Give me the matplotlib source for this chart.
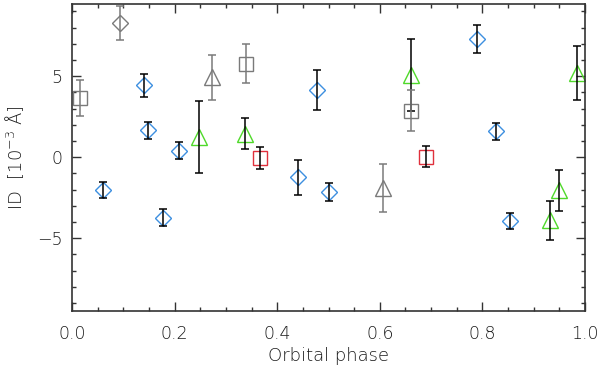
import matplotlib
matplotlib.use("Agg")
import matplotlib.pyplot as plt
from matplotlib.ticker import MultipleLocator

# blue diamonds (black error bars)
blue_x = [0.060, 0.140, 0.148, 0.177, 0.209, 0.440, 0.477, 0.501, 0.789, 0.826, 0.853]
blue_y = [-2.04, 4.44, 1.65, -3.74, 0.41, -1.25, 4.14, -2.14, 7.28, 1.60, -3.93]
blue_e = [0.50, 0.70, 0.53, 0.53, 0.52, 1.10, 1.25, 0.55, 0.86, 0.53, 0.50]

# green triangles (black error bars)
green_x = [0.247, 0.338, 0.660, 0.932, 0.950, 0.984]
green_y = [1.25, 1.46, 5.08, -3.89, -2.04, 5.20]
green_e = [2.20, 0.97, 2.20, 1.20, 1.27, 1.65]

# red squares (black error bars)
red_x = [0.367, 0.691]
red_y = [-0.04, 0.04]
red_e = [0.68, 0.67]

# gray symbols (gray error bars)
gsq_x = [0.015, 0.339, 0.661]
gsq_y = [3.66, 5.78, 2.86]
gsq_e = [1.10, 1.23, 1.27]

gdi_x = [0.094]
gdi_y = [8.29]
gdi_e = [1.07]

gtr_x = [0.273, 0.606]
gtr_y = [4.92, -1.90]
gtr_e = [1.37, 1.50]

BLUE = "#3d8fe0"
GREEN = "#4fd92a"
RED = "#e0303c"
GRAY = "#7a7a7a"
AXC = "#333333"
TXC = "#1a1a1a"

plt.rcParams["font.weight"] = "light"

fig = plt.figure(figsize=(6, 3.7), dpi=100)
ax = fig.add_axes([0.12, 0.159, 0.855, 0.830])


def draw(x, y, e, marker, ms, color, ecolor):
    ax.plot(x, y, linestyle="none", marker=marker, ms=ms, mfc="none",
            mec=color, mew=1.0, zorder=2)
    ax.errorbar(x, y, yerr=e, fmt="none", ecolor=ecolor, elinewidth=1.1,
                capsize=2.6, capthick=1.1, zorder=3)


draw(blue_x, blue_y, blue_e, "D", 8.4, BLUE, "black")
draw(green_x, green_y, green_e, "^", 11, GREEN, "black")
draw(red_x, red_y, red_e, "s", 10.5, RED, "black")
draw(gsq_x, gsq_y, gsq_e, "s", 10.5, GRAY, GRAY)
draw(gdi_x, gdi_y, gdi_e, "D", 8.4, GRAY, GRAY)
draw(gtr_x, gtr_y, gtr_e, "^", 11, GRAY, GRAY)

ax.set_xlim(0, 1)
ax.set_ylim(-9.5, 9.45)
ax.xaxis.set_major_locator(MultipleLocator(0.2))
ax.xaxis.set_minor_locator(MultipleLocator(0.05))
ax.yaxis.set_major_locator(MultipleLocator(5))
ax.yaxis.set_minor_locator(MultipleLocator(1))
ax.xaxis.set_major_formatter(plt.FuncFormatter(lambda v, p: "%.1f" % v))
ax.yaxis.set_major_formatter(plt.FuncFormatter(
    lambda v, p: "%d" % round(v) if round(v) >= 0 else "\u2212%d" % -round(v)))

ax.tick_params(which="both", direction="in", top=True, right=True,
               color=AXC, labelcolor=TXC, labelsize=12.5)
ax.tick_params(which="major", length=6.5, width=1.0)
ax.tick_params(axis="x", which="major", pad=10)
ax.tick_params(axis="y", which="major", pad=7)
ax.tick_params(which="minor", length=3.2, width=1.0)
for s in ax.spines.values():
    s.set_color(AXC)
    s.set_linewidth(1.2)

ax.set_xlabel("Orbital phase", fontsize=13, color=TXC, labelpad=3,
              fontweight="light")
ax.set_ylabel("ID  [10$^{\u2212 3}$ \u00c5]", fontsize=13, color=TXC, labelpad=8,
              fontweight="light")

fig.savefig("out.png", dpi=100)
